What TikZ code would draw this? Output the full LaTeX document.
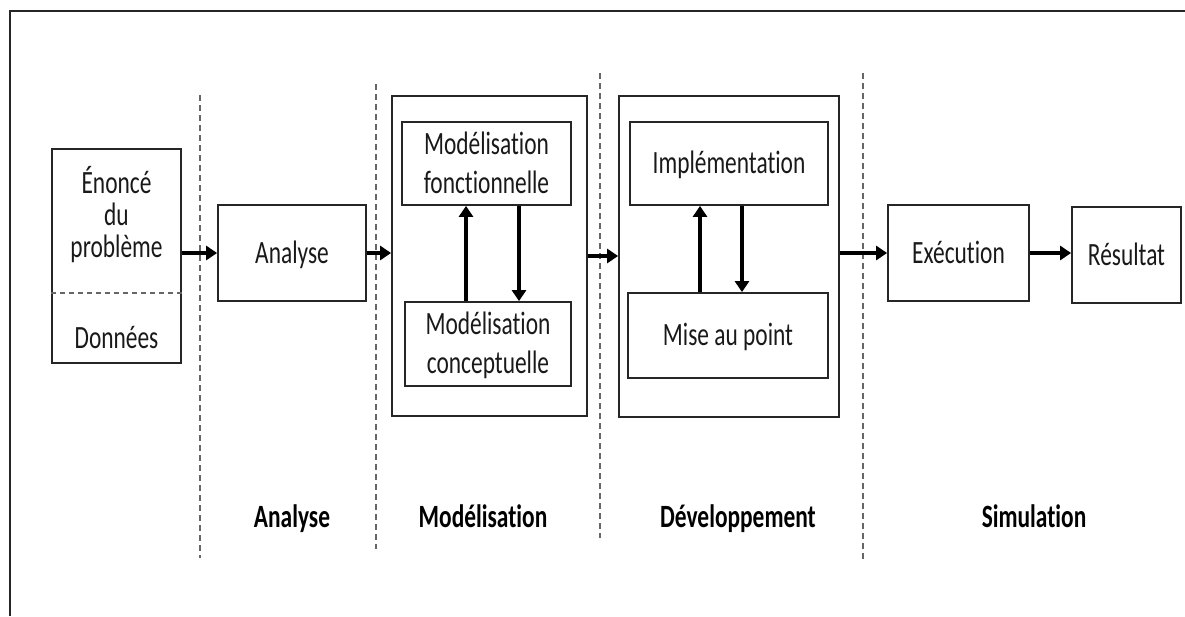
\documentclass[tikz,border=0pt]{standalone}
\usepackage{fontspec}
\setmainfont{Carlito}[FakeStretch=0.72, Ligatures=NoCommon]
\usetikzlibrary{arrows.meta,calc}

\begin{document}
\begin{tikzpicture}[x=1pt,y=-1pt,
  txt/.style={font=\fontsize{32.5}{39}\selectfont, text=black!90},
  box/.style={draw=black!85, line width=1.8pt, rectangle, inner sep=0pt,
    txt, align=center, text height=20pt, text depth=0pt},
  twoline/.style={text height=59pt},
  frame/.style={draw=black!85, line width=2.2pt},
  sep/.style={draw=black!60, line width=1.4pt, dash pattern=on 6pt off 4pt},
  arr/.style={draw=black, line width=3.4pt,
    -{Triangle[length=11pt,width=14pt]}},
  phase/.style={font=\fontsize{32.5}{39}\selectfont\bfseries, anchor=base}
]
\useasboundingbox (0,0) rectangle (1185,616);

% outer frame (only top and left edges fall inside the page)
\draw[frame] (10,616) -- (10,11) -- (1185,11);

% phase separators
\coordinate (s1t) at (200,95);  \coordinate (s1b) at (200,558);
\coordinate (s2t) at (376,84);  \coordinate (s2b) at (376,549);
\coordinate (s3t) at (600,73);  \coordinate (s3b) at (600,538);
\coordinate (s4t) at (863,73);  \coordinate (s4b) at (863,560);
\foreach \i in {1,...,4} \draw[sep] (s\i t) -- (s\i b);

% problem statement / data
\node[box, minimum width=129pt, minimum height=214pt] (enonce) at (116.5,256) {};
\node[txt, anchor=base, align=center, font=\fontsize{32.5}{32}\selectfont]
  (enoncetxt) at (116.5,257) {Énoncé\\du\\problème};
\node[txt, anchor=base] (donnees) at (116.5,348) {Données};
\draw[sep, line width=1.2pt, dash pattern=on 5pt off 4pt]
  (enonce.west |- 0,293) -- (enonce.east |- 0,293);

% analysis
\node[box, minimum width=148pt, minimum height=96pt] (analyse) at (292,253) {Analyse};

% modelling
\node[box, minimum width=195pt, minimum height=320pt] (modl) at (489.5,256) {};
\node[box, twoline, minimum width=169pt, minimum height=83pt] (mf) at (486.5,163.5)
  {Modélisation\\fonctionnelle};
\node[box, twoline, minimum width=166pt, minimum height=84pt] (mc) at (488,344)
  {Modélisation\\conceptuelle};

% development
\node[box, minimum width=220pt, minimum height=321pt] (dev) at (729,256.5) {};
\node[box, minimum width=198pt, minimum height=83pt] (impl) at (729,163.5)
  {Implémentation};
\node[box, minimum width=200pt, minimum height=85pt] (mise) at (728,335.5)
  {Mise au point};

% simulation
\node[box, minimum width=141pt, minimum height=96pt] (exec) at (958.5,253) {Exécution};
\node[box, minimum width=109pt, minimum height=96pt] (res) at (1126.5,255) {Résultat};

% main flow
\draw[arr] (enonce.east |- analyse.west) -- (analyse.west);
\draw[arr] (analyse.east) -- (modl.west |- analyse.east);
\draw[arr] (modl.east) -- (dev.west |- modl.east);
\draw[arr] (dev.east |- exec.west) -- (exec.west);
\draw[arr] (exec.east) -- (res.west |- exec.east);

% inner loops
\draw[arr] (mc.north -| 466,0) -- (mf.south -| 466,0);
\draw[arr] (mf.south -| 519,0) -- (mc.north -| 519,0);
\draw[arr] (mise.north -| 700,0) -- (impl.south -| 700,0);
\draw[arr] (impl.south -| 742,0) -- (mise.north -| 742,0);

% phase names
\node[phase] (pa) at (292,527) {Analyse};
\node[phase] (pm) at (483,527) {Modélisation};
\node[phase] (pd) at (738,527) {Développement};
\node[phase] (ps) at (1034,527) {Simulation};
\end{tikzpicture}
\end{document}
